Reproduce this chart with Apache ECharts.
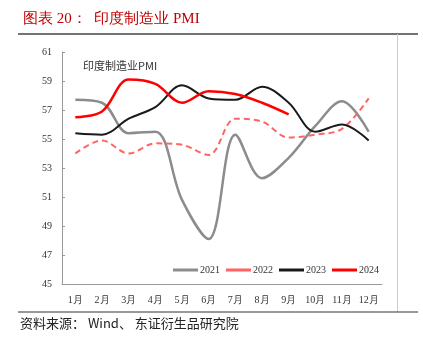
<!DOCTYPE html>
<html><head><meta charset="utf-8">
<script src="https://cdn.jsdelivr.net/npm/echarts@6/dist/echarts.min.js"></script>
<style>html,body{margin:0;padding:0;background:#fff}#c{width:423px;height:345px}</style>
</head><body><div id="c"></div>
<script>
const months = ['1月','2月','3月','4月','5月','6月','7月','8月','9月','10月','11月','12月'];
const y2021 = [57.7,57.5,55.4,55.5,50.8,48.1,55.3,52.3,53.7,55.9,57.6,55.5];
const y2022 = [54.0,54.9,54.0,54.7,54.6,53.9,56.4,56.2,55.1,55.3,55.7,57.8];
const y2023 = [55.4,55.3,56.4,57.2,58.7,57.8,57.7,58.6,57.5,55.5,56.0,54.9];
const y2024 = [56.5,56.9,59.1,58.8,57.5,58.3,58.1,57.5,56.7];
const serif = '"Liberation Serif","DejaVu Serif",serif';
const chart = echarts.init(document.getElementById('c'));
const mk = (name, data, color, width, type) => ({
  name, type:'line', data, smooth:0.35, symbol:'none',
  lineStyle:{color, width, type}, itemStyle:{color}
});
chart.setOption({
  animation:false,
  title:{text:'图表 20：  印度制造业 PMI', left:18, top:7,
    textStyle:{color:'#c00000', fontSize:15, fontWeight:'normal', fontFamily:serif}},
  graphic:[
    {type:'line', shape:{x1:18,y1:34,x2:418,y2:34}, style:{stroke:'#444',lineWidth:1.5}},
    {type:'line', shape:{x1:397.5,y1:34,x2:397.5,y2:312}, style:{stroke:'#ccc',lineWidth:1}},
    {type:'line', shape:{x1:18,y1:312,x2:418,y2:312}, style:{stroke:'#333',lineWidth:1}},
    {type:'text', left:20, top:317, style:{text:'资料来源： Wind、 东证衍生品研究院', fill:'#222', font:'13px "Noto Sans CJK SC", sans-serif'}},
    {type:'text', left:83, top:60, style:{text:'印度制造业PMI', fill:'#333', font:'11px "Noto Sans CJK SC", sans-serif'}}
  ],
  grid:{left:62, right:41, top:52, bottom:61},
  legend:{left:168, top:260, itemWidth:25, itemHeight:3, itemGap:6,
    icon:'rect',
    textStyle:{fontFamily:serif, fontSize:10, color:'#333', padding:[0,0,0,-3]},
    data:[{name:'2021'},{name:'2022'},{name:'2023'},{name:'2024'}]},
  xAxis:{type:'category', data:months, boundaryGap:true,
    axisLine:{lineStyle:{color:'#999'}},
    axisTick:{inside:true, length:3, lineStyle:{color:'#999'}},
    axisLabel:{fontFamily:serif, fontSize:10, color:'#333', margin:11}},
  yAxis:{type:'value', min:45, max:61, interval:2,
    axisLine:{show:true, lineStyle:{color:'#999'}},
    axisTick:{show:true, inside:true, length:3, lineStyle:{color:'#999'}},
    splitLine:{show:false},
    axisLabel:{fontFamily:serif, fontSize:10, color:'#333', margin:10}},
  series:[
    mk('2021', y2021, '#8c8c8c', 2.5, 'solid'),
    mk('2022', y2022, '#ff6464', 2, [6,4]),
    mk('2023', y2023, '#1a1a1a', 2, 'solid'),
    mk('2024', y2024, '#ff0000', 2.5, 'solid')
  ]
});
</script></body></html>
